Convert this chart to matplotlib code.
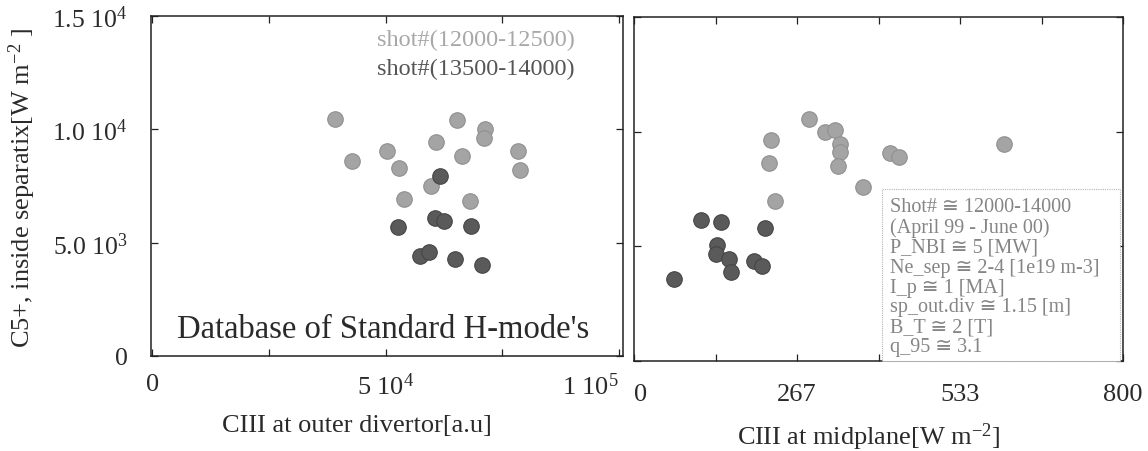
import matplotlib
matplotlib.use("Agg")
import matplotlib.pyplot as plt
from matplotlib.patches import Rectangle

# ---------------- data ----------------
div_light_x = [39.1e3, 42.7e3, 50.2e3, 52.8e3, 54.0e3, 60.8e3, 59.8e3, 65.3e3,
               66.3e3, 71.4e3, 71.1e3, 68.1e3, 78.4e3, 78.8e3]
div_light_y = [10460, 8600, 9030, 8310, 6940, 9440, 7510, 10430,
               8820, 10020, 9630, 6830, 9030, 8200]
div_dark_x = [61.7e3, 52.6e3, 60.6e3, 62.5e3, 68.3e3, 57.4e3, 59.4e3, 64.9e3, 70.7e3]
div_dark_y = [7950, 5710, 6070, 5960, 5750, 4420, 4610, 4290, 4020]

mid_light_x = [287, 313, 329, 337, 337, 333, 224, 221, 231, 375, 418, 433, 605]
mid_light_y = [10540, 9970, 10070, 9460, 9130, 8510, 9640, 8650, 6990, 7570,
               9090, 8880, 9450]
mid_dark_x = [110, 142, 214, 136, 134, 156, 159, 196, 210, 65]
mid_dark_y = [6130, 6040, 5800, 5070, 4680, 4460, 3880, 4350, 4130, 3580]

legend_labels = ["shot#(12000-12500)", "shot#(13500-14000)"]
info_lines = ["Shot# \u2245 12000-14000", "(April 99 - June 00)", "P_NBI \u2245 5 [MW]",
              "Ne_sep \u2245 2-4 [1e19 m-3]", "I_p \u2245 1 [MA]",
              "sp_out.div \u2245 1.15 [m]", "B_T \u2245 2 [T]", "q_95 \u2245 3.1"]

y_ticks = [0, 5000, 10000, 15000]
y_ticklabels = ["0", r"5.0 10$^3$", r"1.0 10$^4$", r"1.5 10$^4$"]
left_x_major = [0, 50000, 100000]
left_x_minor = [25000, 75000]
left_x_ticklabels = ["0", r"5 10$^4$", r"1 10$^5$"]
right_x_major = [0, 800 / 3, 1600 / 3, 800]
right_x_minor = [400 / 3, 400, 2000 / 3]
right_x_ticklabels = ["0", "267", "533", "800"]

# ---------------- style ----------------
FAM = ['Liberation Serif', 'DejaVu Sans']
plt.rcParams['font.family'] = FAM
plt.rcParams['mathtext.fontset'] = 'custom'
plt.rcParams['mathtext.rm'] = 'Liberation Serif'
plt.rcParams['mathtext.it'] = 'Liberation Serif'
plt.rcParams['mathtext.bf'] = 'Liberation Serif'

W, H = 1148, 452
fig = plt.figure(figsize=(W / 100, H / 100), dpi=100)


def px_axes(l, t, r, b):
    return fig.add_axes([l / W, 1 - b / H, (r - l) / W, (b - t) / H])


LIGHT = '#a4a4a4'
LIGHT_E = '#909090'
DARK = '#5a5a5a'
DARK_E = '#464646'
MS = 125
TXT = '#2a2a2a'


def style(ax):
    for s in ax.spines.values():
        s.set_linewidth(1.1)
        s.set_color('#222222')
    ax.tick_params(which='both', direction='in', top=True, right=True,
                   length=5, width=0.9, color='#222222', labelcolor=TXT)


# ---------------- left panel ----------------
ax1 = px_axes(151, 17, 623, 357)
style(ax1)
ax1.scatter(div_light_x, div_light_y, s=MS, c=LIGHT, edgecolors=LIGHT_E, linewidths=0.8, zorder=3)
ax1.scatter(div_dark_x, div_dark_y, s=MS, c=DARK, edgecolors=DARK_E, linewidths=0.8, zorder=4)
ax1.set_xlim(-300, 100900)
ax1.set_ylim(0, 15000)
ax1.set_xticks(left_x_major, left_x_ticklabels)
ax1.set_xticks(left_x_minor, minor=True)
ax1.set_yticks(y_ticks, y_ticklabels)
ax1.tick_params(axis='x', which='major', pad=12, labelsize=19)
ax1.tick_params(axis='y', which='major', pad=17, labelsize=18.5)
ax1.get_xticklabels()[2].set_horizontalalignment('right')

fig.text(377 / W, 1 - 40 / H, legend_labels[0], fontsize=17.5, color='#a8a8a8',
         ha='left', va='center')
fig.text(377 / W, 1 - 69 / H, legend_labels[1], fontsize=17.5, color='#555555',
         ha='left', va='center')
fig.text(177 / W, 1 - 338 / H, "Database of Standard H-mode's", fontsize=23.5,
         color=TXT, ha='left', va='baseline')

fig.text(22 / W, 1 - 188 / H, r"C5+, inside separatix[W m$^{-2}$ ]", rotation=90,
         fontsize=19, color=TXT, ha='center', va='center')
fig.text(357 / W, 1 - 426 / H, "CIII at outer divertor[a.u]", fontsize=19,
         color=TXT, ha='center', va='center')

# ---------------- right panel ----------------
ax2 = px_axes(634, 18, 1123, 362)
style(ax2)
ax2.scatter(mid_light_x, mid_light_y, s=MS, c=LIGHT, edgecolors=LIGHT_E, linewidths=0.8, zorder=3)
ax2.scatter(mid_dark_x, mid_dark_y, s=MS, c=DARK, edgecolors=DARK_E, linewidths=0.8, zorder=4)
ax2.set_xlim(0, 800)
ax2.set_ylim(0, 15000)
ax2.set_xticks(right_x_major, right_x_ticklabels)
ax2.set_xticks(right_x_minor, minor=True)
ax2.set_yticks(y_ticks, [])
ax2.tick_params(axis='x', which='major', pad=16, labelsize=19)
ax2.get_xticklabels()[0].set_horizontalalignment('left')

# info box (pixel coords)
box_l, box_t, box_r, box_b = 882, 190, 1120, 362
fig.patches.append(Rectangle((box_l / W, 1 - box_b / H), (box_r - box_l) / W,
                             (box_b - box_t) / H, transform=fig.transFigure,
                             facecolor='white', edgecolor='#b5b5b5', linewidth=0.8,
                             linestyle=(0, (1, 1)), zorder=5))
for i, line in enumerate(info_lines):
    fig.text(890 / W, 1 - (208 + 20 * i) / H, line, fontsize=14.5, color='#858585',
             family=FAM, ha='left', va='center', zorder=6)

fig.text(869 / W, 1 - 437 / H, r"CIII at midplane[W m$^{-2}$]", fontsize=19,
         color=TXT, ha='center', va='center')

fig.savefig("out.png", dpi=100)
